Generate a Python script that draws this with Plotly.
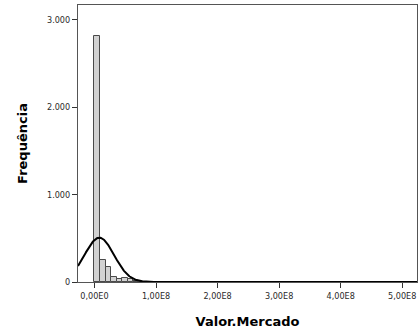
import numpy as np
import plotly.graph_objects as go

# Histogram of Valor.Mercado: bin starts and counts
bin_width = 9.0e6
bin_starts = [0.0, 9.0e6, 18.0e6, 27.0e6, 36.0e6, 45.0e6, 54.0e6, 63.0e6, 72.0e6, 81.0e6]
counts = [2811, 251, 168, 57, 34, 42, 34, 10, 5, 2]

# Fitted normal curve parameters
mean_val = 7.8e6
std_val = 2.42e7

x_tick_vals = [0, 1e8, 2e8, 3e8, 4e8, 5e8]
x_tick_text = ["0,00E0", "1,00E8", "2,00E8", "3,00E8", "4,00E8", "5,00E8"]
y_tick_vals = [0, 1000, 2000, 3000]
y_tick_text = ["0", "1.000", "2.000", "3.000"]

x_range = [-0.268e8, 5.24e8]
y_range = [0, 3166]

centers = [s + bin_width / 2 for s in bin_starts]
n_total = sum(counts)

xs = np.linspace(x_range[0], x_range[1], 800)
curve = n_total * bin_width / (std_val * np.sqrt(2 * np.pi)) * np.exp(-((xs - mean_val) ** 2) / (2 * std_val ** 2))

fig = go.Figure()
fig.add_trace(go.Bar(
    x=centers, y=counts, width=bin_width,
    marker=dict(color="#d2d2d2", line=dict(color="#4a4a4a", width=1)),
    hoverinfo="skip",
))
fig.add_trace(go.Scatter(
    x=xs, y=curve, mode="lines",
    line=dict(color="#000000", width=2),
    hoverinfo="skip",
))

axis_font = dict(family="DejaVu Sans Condensed, DejaVu Sans", size=9, color="#2a2a2a")
title_font = dict(family="DejaVu Sans", size=13, color="#000000")
fig.update_layout(
    width=418, height=333,
    margin=dict(l=78, r=1, t=5, b=51),
    paper_bgcolor="white", plot_bgcolor="white",
    showlegend=False, bargap=0,
    xaxis=dict(
        range=x_range, tickvals=x_tick_vals, ticktext=x_tick_text,
        ticks="outside", ticklen=5, tickcolor="#333333", tickwidth=1,
        showline=True, linecolor="#555555", linewidth=1, mirror=True,
        showgrid=False, zeroline=False, tickfont=axis_font,
        ticklabeloverflow="allow",
        title=dict(text="<b>Valor.Mercado</b>", font=title_font, standoff=17),
    ),
    yaxis=dict(
        range=y_range, tickvals=y_tick_vals, ticktext=y_tick_text,
        ticks="outside", ticklen=5, tickcolor="#333333", tickwidth=1,
        showline=True, linecolor="#555555", linewidth=1, mirror=True,
        showgrid=False, zeroline=False, tickfont=axis_font,
        title=dict(text="<b>Frequência</b>", font=title_font, standoff=16),
    ),
)

fig.write_html("out.html")
